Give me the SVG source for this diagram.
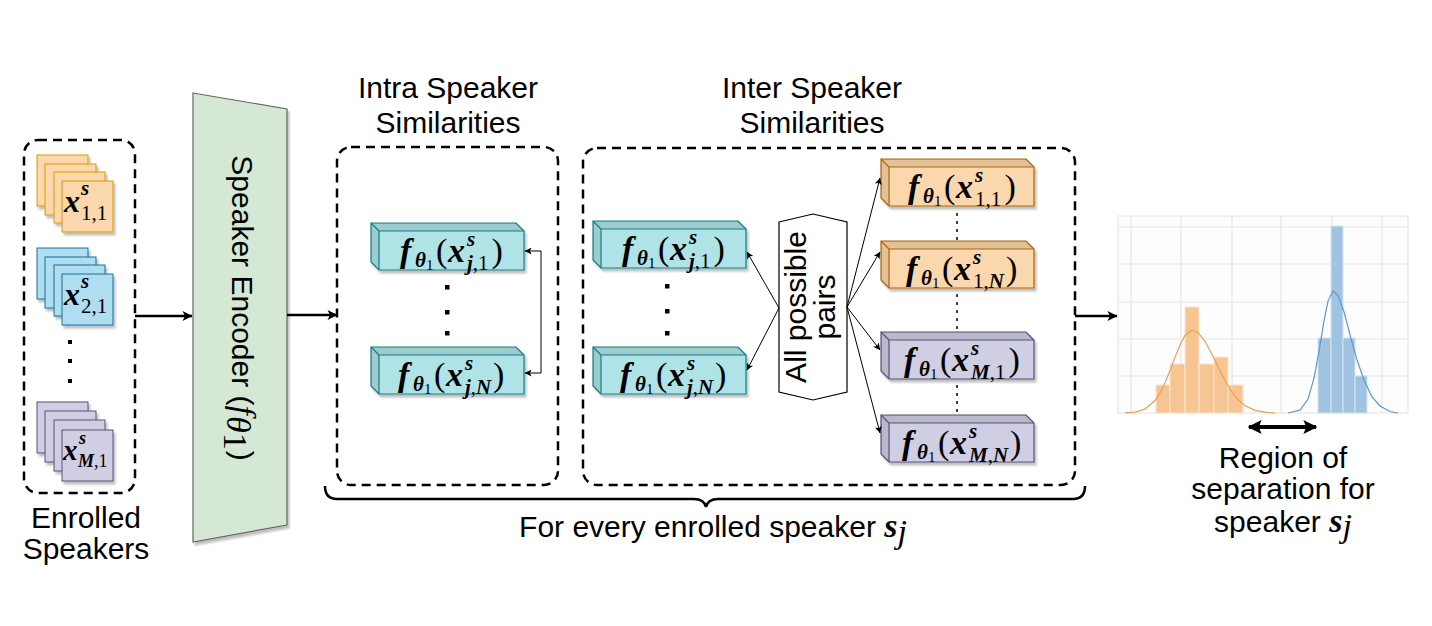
<svg xmlns="http://www.w3.org/2000/svg" xmlns:xlink="http://www.w3.org/1999/xlink" width="1432" height="626" viewBox="0 0 1432 626">
<defs>
<style>
.t{font-family:"Liberation Sans",Arial,sans-serif;font-size:30px;fill:#000}
.m{font-family:"Liberation Serif","Times New Roman",serif;font-size:34px;fill:#000}
.bi{font-weight:bold;font-style:italic}
.it{font-style:italic}
.sb{font-size:21px}
.ss{font-size:15px}
.dash{fill:none;stroke:#000;stroke-width:2.5;stroke-dasharray:9 6}
.thick{fill:none;stroke:#000;stroke-width:2.5}
.thin{fill:none;stroke:#000;stroke-width:1}
.dot{fill:none;stroke:#000;stroke-width:1.5;stroke-dasharray:3 5}
.or{fill:#fad7ac;stroke:#d79b00}
.bl{fill:#b1ddf0;stroke:#10739e}
.pu{fill:#d0cee2;stroke:#56517e}
.grid{stroke:#e6e6e6;stroke-width:1.2;fill:none}
</style>
<filter id="sh" x="-10%" y="-10%" width="130%" height="130%">
<feDropShadow dx="2" dy="3" stdDeviation="1.2" flood-color="#000" flood-opacity="0.25"/>
</filter>
<marker id="ab" viewBox="0 0 10 10" refX="9.5" refY="5" markerUnits="userSpaceOnUse" markerWidth="12" markerHeight="10" orient="auto-start-reverse">
<path d="M0,0 L10,5 L0,10 L2.5,5 z" fill="#000"/>
</marker>
<marker id="as" viewBox="0 0 10 10" refX="9.5" refY="5" markerUnits="userSpaceOnUse" markerWidth="8" markerHeight="7" orient="auto-start-reverse">
<path d="M0,0 L10,5 L0,10 L2.5,5 z" fill="#000"/>
</marker>
<marker id="ad" viewBox="0 0 10 10" refX="9" refY="5" markerUnits="userSpaceOnUse" markerWidth="14" markerHeight="14" orient="auto-start-reverse">
<path d="M0,0 L10,5 L0,10 L2,5 z" fill="#000"/>
</marker>
<g id="cube" filter="url(#sh)">
<polygon points="0,0 145,0 153,8 153,47 8,47 0,39" stroke-width="1.2"/>
<polygon points="0,0 145,0 153,8 8,8 8,47 0,39" fill="#000" fill-opacity="0.1" stroke="none"/>
<path d="M8,8 H153 M8,8 V47 M0,0 L8,8" fill="none" stroke-width="1.2"/>
</g>
</defs>
<rect width="1432" height="626" fill="#fff"/>

<!-- Enrolled speakers -->
<g id="enrolled">
<rect class="dash" x="24" y="140" width="111" height="353" rx="14"/>
<g id="stack-1" filter="url(#sh)">
<rect class="or" x="37" y="155" width="51" height="51"/>
<rect class="or" x="45" y="164" width="51" height="51"/>
<rect class="or" x="54" y="172" width="51" height="51"/>
<rect class="or" x="62" y="181" width="51" height="51"/>
</g>
<text class="m"><tspan class="bi" font-size="32" x="64" y="212">x</tspan><tspan class="bi sb" x="81" y="195">s</tspan><tspan class="sb" x="81" y="220">1,1</tspan></text>
<g id="stack-2" filter="url(#sh)">
<rect class="bl" x="37" y="248" width="51" height="51"/>
<rect class="bl" x="45" y="257" width="51" height="51"/>
<rect class="bl" x="54" y="265" width="51" height="51"/>
<rect class="bl" x="62" y="274" width="51" height="51"/>
</g>
<text class="m"><tspan class="bi" font-size="32" x="64" y="305">x</tspan><tspan class="bi sb" x="81" y="288">s</tspan><tspan class="sb" x="81" y="313">2,1</tspan></text>
<g fill="#000">
<rect x="68" y="340" width="4" height="4"/>
<rect x="68" y="359" width="4" height="4"/>
<rect x="68" y="379" width="4" height="4"/>
</g>
<g id="stack-M" filter="url(#sh)">
<rect class="pu" x="37" y="402" width="51" height="51"/>
<rect class="pu" x="45" y="411" width="51" height="51"/>
<rect class="pu" x="54" y="420" width="51" height="51"/>
<rect class="pu" x="62" y="430" width="51" height="51"/>
</g>
<text class="m"><tspan class="bi" font-size="29" x="63" y="460">x</tspan><tspan class="bi" font-size="18" x="79" y="444">s</tspan><tspan font-size="18" x="78" y="467"><tspan class="bi">M</tspan>,1</tspan></text>
<text class="t" x="86" y="528" text-anchor="middle">Enrolled</text>
<text class="t" x="86" y="559" text-anchor="middle">Speakers</text>
</g>

<!-- Encoder -->
<g id="encoder">
<polygon points="193,93 287,109 287,525 193,542" fill="#d5e8d4" stroke="#666" stroke-width="1.2" filter="url(#sh)"/>
<text class="t" font-size="29" transform="translate(232,308) rotate(90)" text-anchor="middle">Speaker Encoder (<tspan class="m it" font-size="30">f</tspan><tspan class="m it" font-size="19" dx="1" dy="5">θ</tspan><tspan class="m" font-size="13" dy="3">1</tspan><tspan dx="1" dy="-8">)</tspan></text>
</g>

<!-- Intra -->
<g id="intra">
<text class="t" x="448" y="98" text-anchor="middle">Intra Speaker</text>
<text class="t" x="448" y="133" text-anchor="middle">Similarities</text>
<rect class="dash" x="337" y="147" width="221" height="338" rx="14"/>
<g id="intra-1">
<use xlink:href="#cube" x="371" y="223" fill="#b0e3e6" stroke="#0e8088"/>
<text class="m"><tspan class="bi" x="400" y="262">f</tspan><tspan class="bi sb" x="415" y="267">θ</tspan><tspan class="ss" x="426" y="270">1</tspan><tspan x="436" y="262">(</tspan><tspan class="bi" x="448" y="262">x</tspan><tspan class="bi sb" x="467" y="246">s</tspan><tspan class="sb" x="467" y="269.5"><tspan class="bi">j</tspan>,1</tspan><tspan x="491.5" y="262">)</tspan></text>
</g>
<g fill="#000">
<rect x="445" y="285" width="4.5" height="4.5"/>
<rect x="445" y="310" width="4.5" height="4.5"/>
<rect x="445" y="331" width="4.5" height="4.5"/>
</g>
<g id="intra-N">
<use xlink:href="#cube" x="371" y="347" fill="#b0e3e6" stroke="#0e8088"/>
<text class="m"><tspan class="bi" x="398" y="386">f</tspan><tspan class="bi sb" x="413" y="391">θ</tspan><tspan class="ss" x="424" y="394">1</tspan><tspan x="434" y="386">(</tspan><tspan class="bi" x="446" y="386">x</tspan><tspan class="bi sb" x="465" y="370">s</tspan><tspan class="sb" x="465" y="393.5"><tspan class="bi">j</tspan>,<tspan class="bi">N</tspan></tspan><tspan x="493" y="386">)</tspan></text>
</g>
</g>

<!-- Inter -->
<g id="inter">
<text class="t" x="812" y="98" text-anchor="middle">Inter Speaker</text>
<text class="t" x="812" y="133" text-anchor="middle">Similarities</text>
<rect class="dash" x="583" y="148" width="492" height="337" rx="14"/>
<g id="inter-j1">
<use xlink:href="#cube" x="593" y="221" fill="#b0e3e6" stroke="#0e8088"/>
<text class="m"><tspan class="bi" x="622" y="260">f</tspan><tspan class="bi sb" x="637" y="265">θ</tspan><tspan class="ss" x="648" y="268">1</tspan><tspan x="658" y="260">(</tspan><tspan class="bi" x="670" y="260">x</tspan><tspan class="bi sb" x="689" y="244">s</tspan><tspan class="sb" x="689" y="267.5"><tspan class="bi">j</tspan>,1</tspan><tspan x="713.5" y="260">)</tspan></text>
</g>
<g fill="#000">
<rect x="665" y="284" width="4.5" height="4.5"/>
<rect x="665" y="309" width="4.5" height="4.5"/>
<rect x="665" y="331" width="4.5" height="4.5"/>
</g>
<g id="inter-jN">
<use xlink:href="#cube" x="593" y="347" fill="#b0e3e6" stroke="#0e8088"/>
<text class="m"><tspan class="bi" x="620" y="386">f</tspan><tspan class="bi sb" x="635" y="391">θ</tspan><tspan class="ss" x="646" y="394">1</tspan><tspan x="656" y="386">(</tspan><tspan class="bi" x="668" y="386">x</tspan><tspan class="bi sb" x="687" y="370">s</tspan><tspan class="sb" x="687" y="393.5"><tspan class="bi">j</tspan>,<tspan class="bi">N</tspan></tspan><tspan x="715" y="386">)</tspan></text>
</g>
<g id="pairs">
<polygon points="779,222 813,214 847,222 847,392 813,400 779,392" fill="#fff" stroke="#000" stroke-width="1.2"/>
<text class="t" font-size="27" transform="translate(806,307) rotate(-90)" text-anchor="middle">All possible<tspan x="0" dy="29">pairs</tspan></text>
</g>
<g id="inter-11">
<use xlink:href="#cube" x="881" y="159" fill="#fad7ac" stroke="#b46504"/>
<text class="m"><tspan class="bi" x="908" y="198">f</tspan><tspan class="bi sb" x="923" y="203">θ</tspan><tspan class="ss" x="934" y="206">1</tspan><tspan x="944" y="198">(</tspan><tspan class="bi" x="956" y="198">x</tspan><tspan class="bi sb" x="975" y="182">s</tspan><tspan class="sb" x="975" y="205.5">1,1</tspan><tspan x="1004.5" y="198">)</tspan></text>
</g>
<g id="inter-1N">
<use xlink:href="#cube" x="881" y="241" fill="#fad7ac" stroke="#b46504"/>
<text class="m"><tspan class="bi" x="906" y="280">f</tspan><tspan class="bi sb" x="921" y="285">θ</tspan><tspan class="ss" x="932" y="288">1</tspan><tspan x="942" y="280">(</tspan><tspan class="bi" x="954" y="280">x</tspan><tspan class="bi sb" x="973" y="264">s</tspan><tspan class="sb" x="973" y="287.5">1,<tspan class="bi">N</tspan></tspan><tspan x="1006" y="280">)</tspan></text>
</g>
<g id="inter-M1">
<use xlink:href="#cube" x="881" y="332" fill="#d0cee2" stroke="#56517e"/>
<text class="m"><tspan class="bi" x="904" y="371">f</tspan><tspan class="bi sb" x="919" y="376">θ</tspan><tspan class="ss" x="930" y="379">1</tspan><tspan x="940" y="371">(</tspan><tspan class="bi" x="952" y="371">x</tspan><tspan class="bi sb" x="971" y="355">s</tspan><tspan class="sb" x="971" y="378.5"><tspan class="bi">M</tspan>,1</tspan><tspan x="1008.5" y="371">)</tspan></text>
</g>
<g id="inter-MN">
<use xlink:href="#cube" x="881" y="415" fill="#d0cee2" stroke="#56517e"/>
<text class="m"><tspan class="bi" x="902" y="454">f</tspan><tspan class="bi sb" x="917" y="459">θ</tspan><tspan class="ss" x="928" y="462">1</tspan><tspan x="938" y="454">(</tspan><tspan class="bi" x="950" y="454">x</tspan><tspan class="bi sb" x="969" y="438">s</tspan><tspan class="sb" x="969" y="461.5"><tspan class="bi">M</tspan>,<tspan class="bi">N</tspan></tspan><tspan x="1010" y="454">)</tspan></text>
</g>
</g>

<!-- Histogram -->
<g id="histogram">
<rect x="1118" y="216" width="290" height="197" fill="#fdfdfd" stroke="#e6e6e6" stroke-width="1.2"/>
<path class="grid" d="M1118,227H1408M1118,264H1408M1118,302H1408M1118,339H1408M1118,376H1408M1131,216V413M1181,216V413M1232,216V413M1281,216V413M1332,216V413M1382,216V413"/>
<g fill="#f6c591" stroke="#fbe6d0" stroke-width="1">
<rect x="1156" y="385" width="14" height="28"/>
<rect x="1170" y="364" width="15" height="49"/>
<rect x="1185" y="307" width="14" height="106"/>
<rect x="1199" y="364" width="15" height="49"/>
<rect x="1214" y="357" width="14" height="56"/>
<rect x="1228" y="385" width="15" height="28"/>
</g>
<g fill="#9fc3e1" stroke="#d3e4f1" stroke-width="1">
<rect x="1318" y="338" width="13" height="75"/>
<rect x="1331" y="226" width="12" height="187"/>
<rect x="1343" y="338" width="12" height="75"/>
<rect x="1355" y="376" width="12" height="37"/>
</g>
<polyline fill="none" stroke="#e8a05a" stroke-width="1.2" points="1125,412.8 1135,412.1 1145,409.1 1155,400.5 1160,392.9 1165,382.8 1170,370.5 1175,357.4 1180,345 1185,335.5 1192,330 1198,332.6 1205,341.3 1212,354.3 1220,371 1228,386 1236,397.6 1245,405.8 1255,410.4 1265,412.2 1275,413"/>
<polyline fill="none" stroke="#5a9ad0" stroke-width="1.2" points="1288,413 1300,410.2 1308,399.1 1314,378.1 1319,351.3 1324,320.9 1328,301.1 1333,291 1338,295.6 1344,311.8 1350,334.9 1357,360 1364,380 1372,397 1380,406 1390,411.5 1398,413"/>
</g>

<!-- Connectors -->
<g id="connectors">
<line class="thick" x1="135" y1="316" x2="192" y2="316" marker-end="url(#ab)"/>
<line class="thick" x1="287" y1="315" x2="337" y2="315" marker-end="url(#ab)"/>
<line class="thick" x1="1075" y1="316" x2="1117" y2="316" marker-end="url(#ab)"/>
<path class="thin" d="M525,251 H541 V373 H525" marker-start="url(#as)" marker-end="url(#as)"/>
<line class="thin" x1="779" y1="308" x2="747" y2="252" marker-end="url(#as)"/>
<line class="thin" x1="779" y1="308" x2="747" y2="370" marker-end="url(#as)"/>
<line class="thin" x1="847" y1="307" x2="880" y2="178" marker-end="url(#as)"/>
<line class="thin" x1="847" y1="307" x2="880" y2="252" marker-end="url(#as)"/>
<line class="thin" x1="847" y1="307" x2="880" y2="350" marker-end="url(#as)"/>
<line class="thin" x1="847" y1="307" x2="880" y2="433" marker-end="url(#as)"/>
<path class="dot" d="M957,213V241M957,294V331M957,385V414"/>
<line x1="1249" y1="427" x2="1316" y2="427" stroke="#000" stroke-width="4" marker-start="url(#ad)" marker-end="url(#ad)"/>
<path class="thick" d="M325,486 Q325,499 337,499 H694 Q704,499 706,507 Q708,499 718,499 H1073 Q1085,499 1085,486"/>
</g>

<!-- Bottom labels -->
<text class="t" x="713" y="537" text-anchor="middle">For every enrolled speaker <tspan class="m bi" font-size="30">s</tspan><tspan class="m it" font-size="20" dy="6">j</tspan></text>
<g id="region-label">
<text class="t" x="1283" y="468" text-anchor="middle">Region of</text>
<text class="t" x="1283" y="499" text-anchor="middle">separation for</text>
<text class="t" x="1283" y="532" text-anchor="middle">speaker <tspan class="m bi" font-size="28">s</tspan><tspan class="m it" font-size="19" dy="5">j</tspan></text>
</g>
</svg>
